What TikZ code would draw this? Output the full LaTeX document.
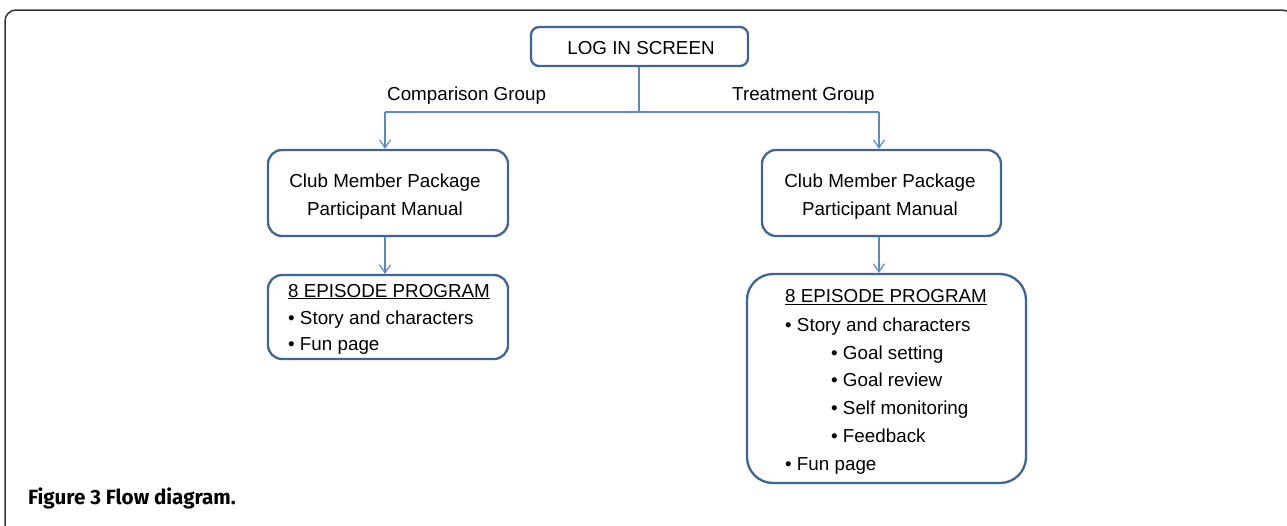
\documentclass[tikz,border=0pt]{standalone}
\usepackage{fontspec}
\setmainfont{Liberation Sans}
\newfontfamily\capfont{Fira Sans}
\usetikzlibrary{arrows.meta}
\definecolor{boxblue}{HTML}{3F6495}
\definecolor{arrblue}{HTML}{5A89C6}
\definecolor{framegray}{HTML}{333333}
\tikzset{
  box/.style={draw=boxblue, line width=2.3pt, rounded corners=12pt, inner sep=0pt, align=center},
  conn/.style={draw=arrblue, line width=1.2pt},
  arr/.style={conn, -{Straight Barb[length=8pt,width=11pt,line width=1.2pt]}},
  txt/.style={inner sep=0pt, anchor=base west},
}
\begin{document}
\begin{tikzpicture}[x=1pt,y=-1pt,font=\fontsize{18.8}{22}\selectfont]
\useasboundingbox (0,0) rectangle (1287,525);
% outer frame
\draw[framegray, line width=1.5pt, rounded corners=11pt] (5,530) -- (5,10) -- (1293,10) -- (1293,530);
% nodes
\node[box, minimum width=217pt, minimum height=39pt, rounded corners=8pt] (login) at (639.5,46.5) {};
\node[txt, anchor=base] (logintxt) at (641,54) {LOG IN SCREEN};
\node[box, minimum width=240pt, minimum height=86pt, rounded corners=14pt] (lclub) at (388,193) {};
\node[txt, anchor=base] (lclub1) at (385,187) {Club Member Package};
\node[txt, anchor=base] (lclub2) at (385,215) {Participant Manual};
\node[box, minimum width=239pt, minimum height=86pt, rounded corners=14pt] (rclub) at (881.5,193) {};
\node[txt, anchor=base] (rclub1) at (880,187) {Club Member Package};
\node[txt, anchor=base] (rclub2) at (880,215) {Participant Manual};
\node[box, minimum width=240pt, minimum height=84pt, rounded corners=14pt] (lep) at (388,317) {};
\node[txt] (lep1) at (288,297) {\underline{8 EPISODE PROGRAM}};
\node[txt] (lep2) at (288,324) {\textbullet\ Story and characters};
\node[txt] (lep3) at (288,350) {\textbullet\ Fun page};
\node[box, minimum width=279pt, minimum height=209pt, rounded corners=26pt] (rep) at (886.5,378.5) {};
\node[txt] (rep1) at (785,302.5) {\underline{8 EPISODE PROGRAM}};
\node[txt] (rep2) at (785,331) {\textbullet\ Story and characters};
\node[txt] (rep3) at (831,359) {\textbullet\ Goal setting};
\node[txt] (rep4) at (831,386.5) {\textbullet\ Goal review};
\node[txt] (rep5) at (831,414) {\textbullet\ Self monitoring};
\node[txt] (rep6) at (831,442) {\textbullet\ Feedback};
\node[txt] (rep7) at (785,470) {\textbullet\ Fun page};
% group labels
\node[txt] (cgl) at (387,100) {Comparison Group};
\node[txt] (tgl) at (732,100) {Treatment Group};
% connectors
\coordinate (split) at (639,112);
\coordinate (lsplit) at (385,112);
\coordinate (rsplit) at (879,112);
\draw[conn] (login.south -| split) -- (split);
\draw[conn] (lsplit) -- (rsplit);
\draw[arr] (lsplit) -- (lsplit |- lclub.north);
\draw[arr] (rsplit) -- (rsplit |- rclub.north);
\draw[arr] (lclub.south -| lsplit) -- (lsplit |- lep.north);
\draw[arr] (rclub.south -| rsplit) -- (rsplit |- rep.north);
% caption
\node[txt] (cap) at (28,504) {\capfont\fontsize{20.6}{24}\selectfont\bfseries Figure 3 Flow diagram.};
\end{tikzpicture}
\end{document}
